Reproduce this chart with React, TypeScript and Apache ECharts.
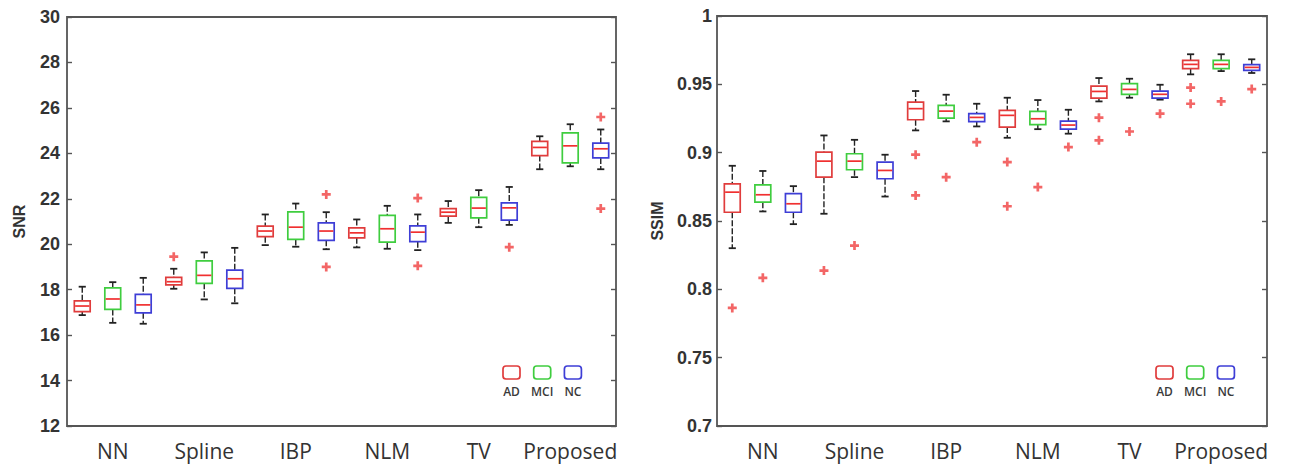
import React, { useEffect, useRef } from "react";
import * as echarts from "echarts";

const categories = ["NN", "Spline", "IBP", "NLM", "TV", "Proposed"];
const groups = ["AD", "MCI", "NC"];
const groupColors = ["#e03c3c", "#3fcd3f", "#3e3ed6"];
const medianColor = "#f03030";
const outlierColor = "#f04040";

// each entry: [min, Q1, median, Q3, max]
const snrAD = [
  [16.88, 17.03, 17.28, 17.51, 18.13],
  [18.04, 18.21, 18.35, 18.54, 18.92],
  [19.96, 20.33, 20.58, 20.8, 21.31],
  [19.86, 20.28, 20.5, 20.72, 21.09],
  [20.94, 21.24, 21.41, 21.57, 21.9],
  [23.3, 23.9, 24.26, 24.53, 24.75],
];
const snrMCI = [
  [16.54, 17.13, 17.59, 18.08, 18.33],
  [17.57, 18.28, 18.63, 19.27, 19.64],
  [19.89, 20.21, 20.75, 21.42, 21.79],
  [19.8, 20.09, 20.68, 21.27, 21.69],
  [20.75, 21.16, 21.59, 22.06, 22.38],
  [23.43, 23.58, 24.33, 24.9, 25.28],
];
const snrNC = [
  [16.5, 16.98, 17.33, 17.79, 18.52],
  [17.4, 18.06, 18.48, 18.86, 19.84],
  [19.78, 20.17, 20.58, 20.94, 21.41],
  [19.74, 20.11, 20.53, 20.81, 21.31],
  [20.85, 21.06, 21.6, 21.82, 22.52],
  [23.3, 23.8, 24.2, 24.45, 25.05],
];
// [category index, group index, value]
const snrOutliers = [
  [1, 0, 19.45],
  [2, 2, 22.19],
  [2, 2, 19.0],
  [3, 2, 22.03],
  [3, 2, 19.05],
  [4, 2, 19.87],
  [5, 2, 25.6],
  [5, 2, 21.57],
];

const ssimAD = [
  [0.8301, 0.8564, 0.8711, 0.8772, 0.8904],
  [0.8553, 0.8821, 0.8938, 0.9004, 0.9126],
  [0.9163, 0.9241, 0.9322, 0.937, 0.9451],
  [0.9109, 0.9187, 0.9273, 0.9309, 0.9402],
  [0.9375, 0.9399, 0.9448, 0.9487, 0.9546],
  [0.9573, 0.9615, 0.9646, 0.9676, 0.972],
];
const ssimMCI = [
  [0.857, 0.8638, 0.8692, 0.8765, 0.8866],
  [0.8821, 0.8875, 0.8938, 0.8992, 0.9094],
  [0.9229, 0.9253, 0.9304, 0.9346, 0.9424],
  [0.9172, 0.9205, 0.9248, 0.9302, 0.9385],
  [0.9402, 0.9427, 0.9463, 0.9505, 0.9541],
  [0.9597, 0.9615, 0.9646, 0.9676, 0.972],
];
const ssimNC = [
  [0.8477, 0.8564, 0.8626, 0.87, 0.8755],
  [0.8679, 0.8809, 0.887, 0.8931, 0.8985],
  [0.9192, 0.9227, 0.9258, 0.9285, 0.9358],
  [0.9139, 0.9172, 0.9202, 0.9231, 0.9314],
  [0.9388, 0.9399, 0.9427, 0.9451, 0.9497],
  [0.9583, 0.9602, 0.9624, 0.9644, 0.9683],
];
const ssimOutliers = [
  [0, 0, 0.7864],
  [0, 1, 0.8084],
  [1, 0, 0.8137],
  [1, 1, 0.832],
  [2, 0, 0.8985],
  [2, 0, 0.8687],
  [2, 1, 0.8821],
  [2, 2, 0.9077],
  [3, 0, 0.8931],
  [3, 0, 0.8608],
  [3, 1, 0.8748],
  [3, 2, 0.9041],
  [4, 0, 0.9256],
  [4, 0, 0.909],
  [4, 1, 0.9155],
  [4, 2, 0.9285],
  [5, 0, 0.9476],
  [5, 0, 0.9358],
  [5, 1, 0.9375],
  [5, 2, 0.9465],
];

const snrTicks = { min: 12, max: 30, interval: 2 };
const ssimTicks = { min: 0.7, max: 1, interval: 0.05 };

const xSlots: string[] = [];
categories.forEach((c) => groups.forEach((g) => xSlots.push(c + "|" + g)));

function boxData(sets: number[][][]) {
  const out: number[][] = [];
  categories.forEach((_, ci) => {
    sets.forEach((s, gi) => {
      out.push([ci * 3 + gi, ...s[ci]]);
    });
  });
  return out;
}

function outlierData(list: number[][]) {
  return list.map((o) => [o[0] * 3 + o[1], o[2]]);
}

const renderBox = (params: any, api: any) => {
  const xi = api.value(0);
  const lo = api.coord([xi, api.value(1)]);
  const q1 = api.coord([xi, api.value(2)]);
  const md = api.coord([xi, api.value(3)]);
  const q3 = api.coord([xi, api.value(4)]);
  const hi = api.coord([xi, api.value(5)]);
  const band = api.size([1, 0])[0];
  const bw = band * 0.52;
  const cw = bw * 0.45;
  const cx = lo[0];
  const color = groupColors[xi % 3];
  const whisk = { stroke: "#222222", lineWidth: 1.4, lineDash: [6, 2] };
  const cap = { stroke: "#222222", lineWidth: 1.8 };
  return {
    type: "group",
    children: [
      { type: "line", shape: { x1: cx, y1: hi[1], x2: cx, y2: q3[1] }, style: whisk },
      { type: "line", shape: { x1: cx, y1: q1[1], x2: cx, y2: lo[1] }, style: whisk },
      { type: "line", shape: { x1: cx - cw / 2, y1: hi[1], x2: cx + cw / 2, y2: hi[1] }, style: cap },
      { type: "line", shape: { x1: cx - cw / 2, y1: lo[1], x2: cx + cw / 2, y2: lo[1] }, style: cap },
      {
        type: "rect",
        shape: { x: cx - bw / 2, y: q3[1], width: bw, height: q1[1] - q3[1] },
        style: { fill: "#ffffff", stroke: color, lineWidth: 1.7 },
      },
      {
        type: "line",
        shape: { x1: cx - bw / 2 + 0.8, y1: md[1], x2: cx + bw / 2 - 0.8, y2: md[1] },
        style: { stroke: medianColor, lineWidth: 1.7 },
      },
    ],
  };
};

const plusSymbol = "path://M3.5,0h3v3.5h3.5v3h-3.5v3.5h-3v-3.5h-3.5v-3h3.5z";

function legendGraphics(x0: number, y0: number) {
  const items: any[] = [];
  groups.forEach((g, i) => {
    const x = x0 + i * 30.7;
    items.push({
      type: "rect",
      shape: { x, y: y0, width: 17, height: 13, r: 3 },
      style: { fill: "#ffffff", stroke: groupColors[i], lineWidth: 1.7 },
    });
    items.push({
      type: "text",
      x: x + 8.5,
      y: y0 + 25,
      style: {
        text: g,
        align: "center",
        verticalAlign: "middle",
        fontSize: 12,
        fontWeight: 600,
        fontFamily: "Open Sans",
        fill: "#3a3a3a",
      },
    });
  });
  return items;
}

const gridFrame = { show: true, borderColor: "#555555", borderWidth: 1.8, backgroundColor: "#ffffff" };

function xAxisFor(gridIndex: number) {
  return {
    type: "category",
    gridIndex,
    data: xSlots,
    boundaryGap: true,
    axisLine: { show: false },
    axisTick: { show: false },
    splitLine: { show: false },
    axisLabel: {
      interval: 0,
      margin: 14,
      fontSize: 21,
      fontFamily: "Open Sans",
      color: "#333333",
      formatter: (v: string) => (v.endsWith("|MCI") ? v.split("|")[0] : ""),
    },
  };
}

function yAxesFor(gridIndex: number, ticks: any, name: string, gap: number, margin: number, fmt?: any) {
  const base = {
    type: "value",
    gridIndex,
    min: ticks.min,
    max: ticks.max,
    interval: ticks.interval,
    splitLine: { show: false },
    axisLine: { show: false },
    axisTick: { show: true, inside: true, length: 5, lineStyle: { color: "#555555", width: 1.4 } },
  };
  return [
    {
      ...base,
      position: "left",
      name,
      nameLocation: "middle",
      nameGap: gap,
      nameTextStyle: { fontSize: 16, fontWeight: "bold", fontFamily: "Liberation Sans", color: "#333333" },
      axisLabel: {
        margin,
        fontSize: 18,
        fontWeight: "bold",
        fontFamily: "Liberation Sans",
        color: "#333333",
        formatter: fmt,
      },
    },
    { ...base, position: "right", axisLabel: { show: false } },
  ];
}

export default function App() {
  const ref = useRef<HTMLDivElement>(null);
  useEffect(() => {
    if (!ref.current) return;
    const chart = echarts.init(ref.current, undefined, { renderer: "svg" });
    const ssimFmt = (v: number) => String(+v.toFixed(2));
    chart.setOption({
      animation: false,
      backgroundColor: "#ffffff",
      grid: [
        { left: 67, top: 17, width: 549, height: 409, ...gridFrame },
        { left: 717, top: 16, width: 550, height: 410, ...gridFrame },
      ],
      xAxis: [xAxisFor(0), xAxisFor(1)],
      yAxis: [
        ...yAxesFor(0, snrTicks, "SNR", 40, 7),
        ...yAxesFor(1, ssimTicks, "SSIM", 52, 5, ssimFmt),
      ],
      series: [
        {
          type: "custom",
          xAxisIndex: 0,
          yAxisIndex: 0,
          renderItem: renderBox,
          encode: { x: 0, y: [1, 2, 3, 4, 5] },
          data: boxData([snrAD, snrMCI, snrNC]),
          z: 3,
        },
        {
          type: "scatter",
          xAxisIndex: 0,
          yAxisIndex: 0,
          symbol: plusSymbol,
          symbolSize: 9,
          itemStyle: { color: outlierColor },
          data: outlierData(snrOutliers),
          z: 4,
        },
        {
          type: "custom",
          xAxisIndex: 1,
          yAxisIndex: 2,
          renderItem: renderBox,
          encode: { x: 0, y: [1, 2, 3, 4, 5] },
          data: boxData([ssimAD, ssimMCI, ssimNC]),
          z: 3,
        },
        {
          type: "scatter",
          xAxisIndex: 1,
          yAxisIndex: 2,
          symbol: plusSymbol,
          symbolSize: 9,
          itemStyle: { color: outlierColor },
          data: outlierData(ssimOutliers),
          z: 4,
        },
      ],
      graphic: [...legendGraphics(503, 366), ...legendGraphics(1156, 366)],
    });
    return () => chart.dispose();
  }, []);
  return (
    <div
      ref={ref}
      style={{ position: "fixed", left: 0, top: 0, width: 1293, height: 471, background: "#fff" }}
    />
  );
}
